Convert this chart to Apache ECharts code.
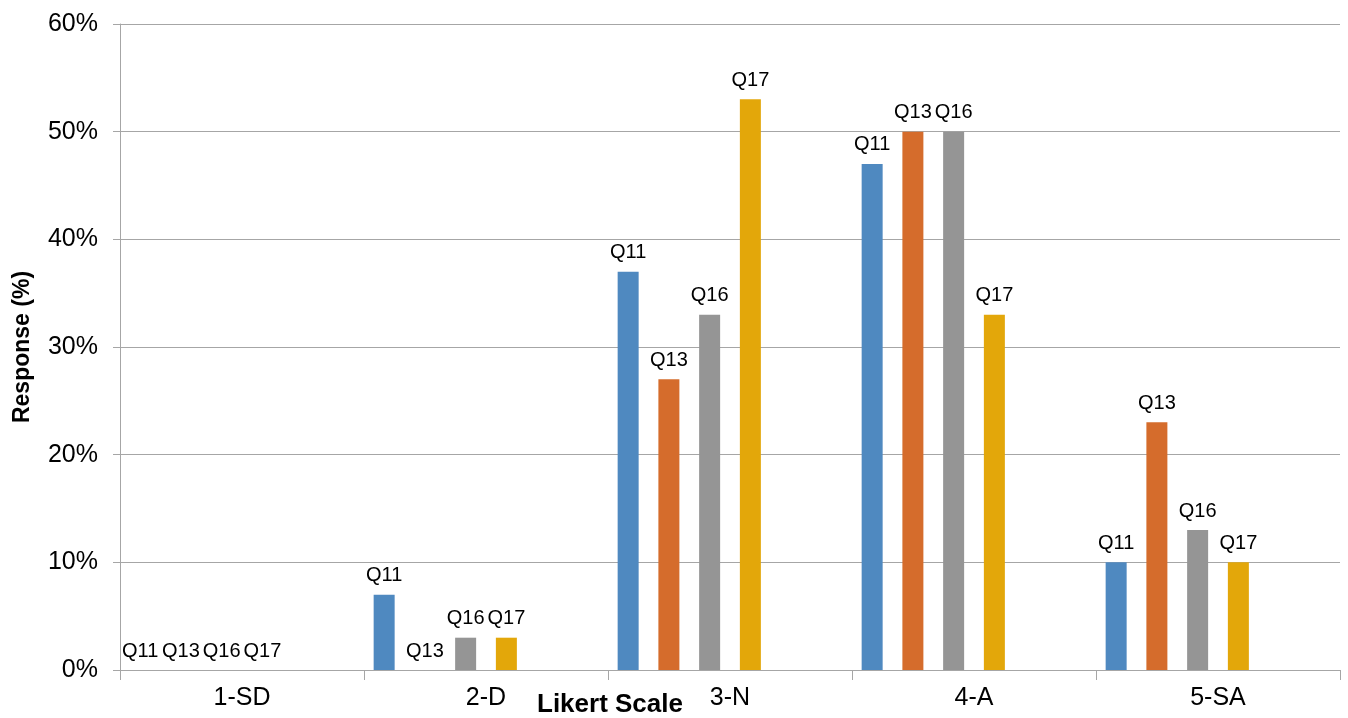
<!DOCTYPE html>
<html><head><meta charset="utf-8">
<script src="https://cdn.jsdelivr.net/npm/echarts@6/dist/echarts.min.js"></script>
<style>html,body{margin:0;padding:0;background:#fff}#c{width:1348px;height:718px}</style>
</head><body><div id="c"></div>
<script>
const categories = ['1-SD', '2-D', '3-N', '4-A', '5-SA'];
const q11 = [0, 7, 37, 47, 10];
const q13 = [0, 0, 27, 50, 23];
const q16 = [0, 3, 33, 50, 13];
const q17 = [0, 3, 53, 33, 10];
const seriesNames = ['Q11', 'Q13', 'Q16', 'Q17'];
const seriesColors = ['#4F89C0', '#D56C2C', '#959595', '#E3A70A'];
const yTicks = [0, 10, 20, 30, 40, 50, 60];

const font = 'Liberation Sans, Arial, sans-serif';
const values = [q11, q13, q16, q17];
const series = seriesNames.map((n, i) => ({
  name: n, type: 'bar', data: values[i], barWidth: 21, barGap: '94%',
  itemStyle: { color: seriesColors[i] },
  label: { show: true, position: 'top', distance: 9, formatter: n,
           color: '#000', fontSize: 20, fontFamily: font },
  animation: false
}));
// two empty slots in each group (as in the original chart layout)
series.push({ name: 'e1', type: 'bar', data: [], barWidth: 21, barGap: '94%' });
series.push({ name: 'e2', type: 'bar', data: [], barWidth: 21, barGap: '94%' });

const chart = echarts.init(document.getElementById('c'));
chart.setOption({
  animation: false,
  grid: { left: 120, right: 8, top: 24, bottom: 48 },
  xAxis: {
    type: 'category', data: categories,
    axisLine: { lineStyle: { color: '#A6A6A6', width: 1 } },
    axisTick: { show: true, length: 10, lineStyle: { color: '#A6A6A6' } },
    axisLabel: { color: '#000', fontSize: 25, fontFamily: font, margin: 16 }
  },
  yAxis: {
    type: 'value', min: 0, max: 60, interval: 10,
    name: 'Response (%)', nameLocation: 'middle', nameGap: 86,
    nameTextStyle: { color: '#000', fontSize: 23, fontWeight: 'bold', fontFamily: font },
    axisLine: { show: true, lineStyle: { color: '#A6A6A6' } },
    axisTick: { show: true, length: 7, lineStyle: { color: '#A6A6A6' } },
    axisLabel: { color: '#000', fontSize: 25, fontFamily: font, margin: 22,
                 formatter: v => yTicks.includes(v) ? v + '%' : '' },
    splitLine: { lineStyle: { color: '#A6A6A6', width: 1 } }
  },
  graphic: [{
    type: 'text', left: 537, top: 692,
    style: { text: 'Likert Scale', font: 'bold 26px ' + font, fill: '#000' }
  }],
  series: series
});
</script></body></html>
